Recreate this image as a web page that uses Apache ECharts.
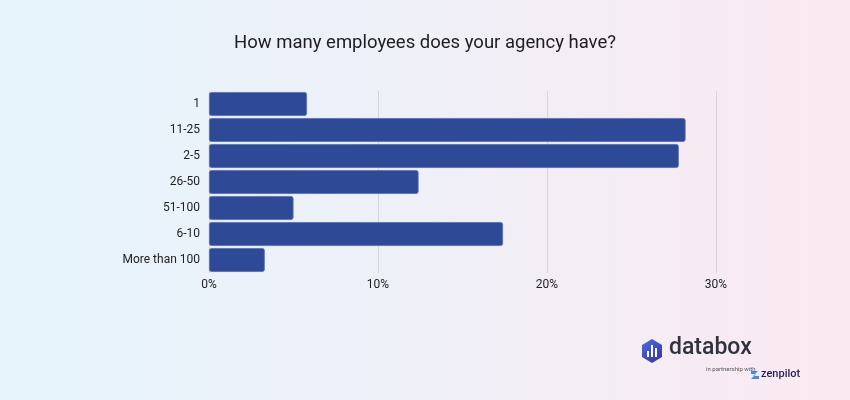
<!DOCTYPE html>
<html><head><meta charset="utf-8">
<script src="https://cdn.jsdelivr.net/npm/echarts@6/dist/echarts.min.js"></script>
<style>html,body{margin:0;padding:0;}#c{width:850px;height:400px;background:linear-gradient(90deg,#e6f4fc 0%,#eef0f8 45%,#fbe9f1 100%);}</style>
</head><body><div id="c"></div>
<script>
const categories = ['1','11-25','2-5','26-50','51-100','6-10','More than 100'];
const values = [5.8, 28.2, 27.8, 12.4, 5.0, 17.4, 3.3];
const xTicks = [0, 10, 20, 30];

const chart = echarts.init(document.getElementById('c'), null, {renderer:'canvas'});
chart.setOption({
  backgroundColor: 'transparent',
  animation: false,
  title: {
    text: 'How many employees does your agency have?',
    left: 'center', top: 29,
    textStyle: {fontFamily: 'Roboto', fontSize: 18.5, fontWeight: 'normal', color: '#1d1d1f'}
  },
  grid: {left: 209, right: 134, top: 91, bottom: 127},
  xAxis: {
    type: 'value', min: xTicks[0], max: xTicks[xTicks.length-1], interval: 10,
    axisLine: {show: false}, axisTick: {show: false},
    splitLine: {lineStyle: {color: '#d6d3dc', width: 1}},
    axisLabel: {formatter: v => v + '%', fontFamily: 'Roboto', fontSize: 12, color: '#222', margin: 6}
  },
  yAxis: {
    type: 'category', data: categories, inverse: true,
    axisLine: {show: false}, axisTick: {show: false},
    axisLabel: {fontFamily: 'Roboto', fontSize: 12, color: '#222', margin: 9}
  },
  series: [{
    type: 'bar', data: values, barCategoryGap: '8%',
    itemStyle: {color: '#2e4995', borderColor: '#5a6fb0', borderWidth: 0.8, borderRadius: 2}
  }],
  graphic: [
    {type: 'polygon', shape: {points: [[652,339],[662,345],[662,357],[652,363],[642,357],[642,345]]},
     style: {fill: new echarts.graphic.LinearGradient(0,0,1,1,[{offset:0,color:'#4a6fe0'},{offset:1,color:'#3a2f9e'}])}},
    {type: 'rect', shape: {x: 647, y: 351, width: 2, height: 6}, style: {fill: '#fff'}},
    {type: 'rect', shape: {x: 651, y: 345, width: 2, height: 12}, style: {fill: '#fff'}},
    {type: 'rect', shape: {x: 655, y: 348, width: 2, height: 9}, style: {fill: '#fff'}},
    {type: 'text', left: 669, top: 337, style: {text: 'databox', font: '500 23px Roboto', fill: '#2f3340'}},
    {type: 'text', left: 706, top: 366, style: {text: 'in partnership with', font: '6px Roboto', fill: '#555'}},
    {type: 'polygon', shape: {points: [[751,371],[758,371],[753,376],[759,376],[759,379],[751,379],[756,374],[751,374]]}, style: {fill: '#3a8fe0'}},
    {type: 'text', left: 761, top: 369, style: {text: 'zenpilot', font: '500 11px Roboto', fill: '#1f2150'}}
  ]
});
</script></body></html>
